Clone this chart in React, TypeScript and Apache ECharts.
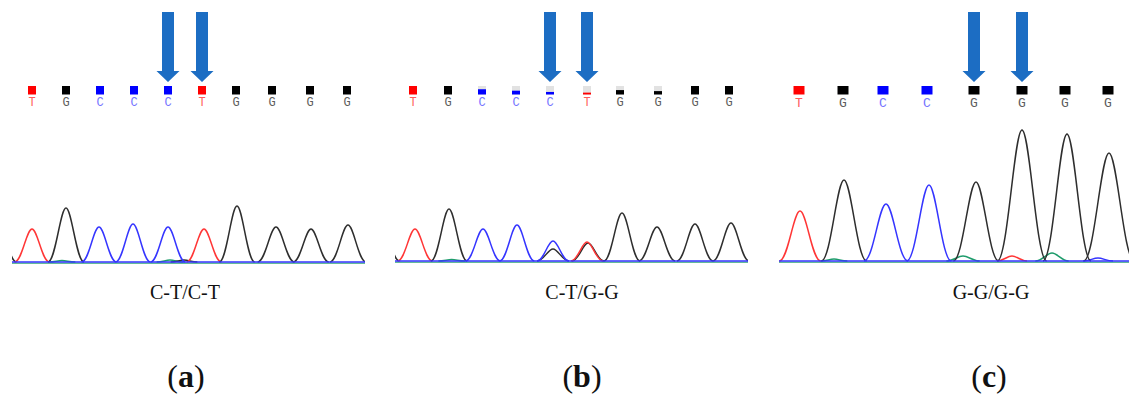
import React, { useEffect, useRef } from 'react';
import * as echarts from 'echarts';

// ---------- colours ----------
const TRACE_COLORS: Record<string, string> = { A: '#1f9c6c', C: '#3535ff', G: '#2e2e2e', T: '#ff3636' };
const CALL_COLORS: Record<string, string> = { A: '#00a000', C: '#0000ff', G: '#000000', T: '#ff0000' };
const LETTER_COLORS: Record<string, string> = { A: '#40a040', C: '#7575ff', G: '#5c5c5c', T: '#ff5c5c' };

// ---------- panel (a) : C-T/C-T ----------
const basesA = ['T', 'G', 'C', 'C', 'C', 'T', 'G', 'G', 'G', 'G'];
const callPosA = [60, 162, 264, 366, 468, 570, 672, 780, 894, 1005];
const qualA = [1, 1, 1, 1, 1, 1, 1, 1, 1, 1];
// [base, scan position, height, half width]
const peaksA: [string, number, number, number][] = [
  ['A', 150, 1.5, 40],
  ['A', 474, 2, 40],
  ['G', 516, 2, 40],
  ['G', -42, 40, 55],
  ['T', 60, 33, 52],
  ['G', 162, 54, 54],
  ['C', 261, 35, 52],
  ['C', 363, 38, 52],
  ['C', 468, 35, 52],
  ['T', 576, 33, 52],
  ['G', 675, 56, 53],
  ['G', 792, 35, 55],
  ['G', 897, 33, 53],
  ['G', 1008, 37, 54],
];

// ---------- panel (b) : C-T/G-G ----------
const basesB = ['T', 'G', 'C', 'C', 'C', 'T', 'G', 'G', 'G', 'G'];
const callPosB = [54, 159, 261, 363, 465, 576, 675, 789, 900, 1002];
const qualB = [1, 1, 0.62, 0.45, 0.3, 0.22, 0.52, 0.4, 1, 1];
const peaksB: [string, number, number, number][] = [
  ['A', 170, 1.5, 40],
  ['G', -42, 40, 55],
  ['T', 60, 32, 52],
  ['G', 162, 52, 54],
  ['C', 264, 32, 52],
  ['C', 366, 36, 52],
  ['G', 474, 12, 48],
  ['C', 474, 20, 48],
  ['G', 579, 18, 48],
  ['T', 576, 19, 48],
  ['G', 681, 48, 54],
  ['G', 786, 34, 54],
  ['G', 900, 37, 54],
  ['G', 1008, 38, 54],
];

// ---------- panel (c) : G-G/G-G ----------
const basesC = ['T', 'G', 'C', 'C', 'G', 'G', 'G', 'G'];
const callPosC = [60, 192, 312, 444, 585, 729, 858, 987];
const qualC = [1, 1, 1, 1, 1, 1, 1, 1];
const peaksC: [string, number, number, number][] = [
  ['A', 165, 2, 40],
  ['A', 552, 5, 50],
  ['T', 699, 5, 45],
  ['A', 819, 8, 50],
  ['C', 957, 3, 45],
  ['T', 63, 50, 62],
  ['G', 195, 81, 68],
  ['C', 321, 57, 66],
  ['C', 450, 76, 67],
  ['G', 591, 79, 68],
  ['G', 729, 131, 74],
  ['G', 864, 127, 72],
  ['G', 990, 108, 76],
];

// arrows point at these base calls (same in every panel)
const arrowBaseIdx = [4, 5];

const genotypes = ['C-T/C-T', 'C-T/G-G', 'G-G/G-G'];
const panelLetters = ['a', 'b', 'c'];

type Panel = {
  bases: string[];
  callPos: number[];
  qual: number[];
  peaks: [string, number, number, number][];
  left: number;
  width: number;
  baseline: number;
  sqW: number;
  letterSize: number;
  captionX: number;
  letterX: number;
};

const panels: Panel[] = [
  { bases: basesA, callPos: callPosA, qual: qualA, peaks: peaksA, left: 12, width: 353, baseline: 262, sqW: 8, letterSize: 12, captionX: 185, letterX: 186 },
  { bases: basesB, callPos: callPosB, qual: qualB, peaks: peaksB, left: 395, width: 353, baseline: 261, sqW: 8, letterSize: 12, captionX: 582, letterX: 582 },
  { bases: basesC, callPos: callPosC, qual: qualC, peaks: peaksC, left: 779, width: 350, baseline: 261, sqW: 11, letterSize: 13, captionX: 991, letterX: 989 },
];

const SCAN_PER_PX = 3;
const TOP_H = 120;
const Y_MIN = -3;
const Y_MAX = 157;

function buildOption() {
  const grid: any[] = [];
  const xAxis: any[] = [];
  const yAxis: any[] = [];
  const series: any[] = [];
  const graphic: any[] = [];

  panels.forEach((p, pi) => {
    const xMax = p.width * SCAN_PER_PX;
    const bottomPx = p.baseline - Y_MIN;
    grid.push({ left: p.left, top: 0, width: p.width, height: TOP_H });
    grid.push({ left: p.left, top: bottomPx - (Y_MAX - Y_MIN), width: p.width, height: Y_MAX - Y_MIN });
    const gTop = pi * 2;
    const gBot = pi * 2 + 1;
    xAxis.push({ type: 'value', gridIndex: gTop, min: 0, max: xMax, show: false });
    xAxis.push({ type: 'value', gridIndex: gBot, min: 0, max: xMax, show: false });
    yAxis.push({ type: 'value', gridIndex: gTop, min: 0, max: TOP_H, inverse: true, show: false });
    yAxis.push({ type: 'value', gridIndex: gBot, min: Y_MIN, max: Y_MAX, show: false });

    // base calls
    series.push({
      type: 'custom',
      xAxisIndex: gTop,
      yAxisIndex: gTop,
      silent: true,
      data: p.callPos.map((x, i) => [x, p.qual[i]]),
      renderItem: (params: any, api: any) => {
        const i = params.dataIndex;
        const b = p.bases[i];
        const x = api.coord([api.value(0), 0])[0];
        const q = api.value(1);
        const sqH = 8.5;
        const top = 86;
        const children: any[] = [];
        if (q < 1) {
          children.push({
            type: 'rect',
            shape: { x: x - p.sqW / 2, y: top, width: p.sqW, height: sqH },
            style: { fill: '#e2e2e2' },
          });
        }
        children.push({
          type: 'rect',
          shape: { x: x - p.sqW / 2, y: top + sqH * (1 - q), width: p.sqW, height: sqH * q },
          style: { fill: CALL_COLORS[b] },
        });
        children.push({
          type: 'text',
          x: x,
          y: 103,
          style: {
            text: b,
            fill: LETTER_COLORS[b],
            fontSize: p.letterSize,
            fontFamily: '"Liberation Mono", monospace',
            align: 'center',
            verticalAlign: 'middle',
          },
        });
        return { type: 'group', children };
      },
    });

    // arrows
    series.push({
      type: 'custom',
      xAxisIndex: gTop,
      yAxisIndex: gTop,
      silent: true,
      data: arrowBaseIdx.map((i) => [p.callPos[i], 0]),
      renderItem: (params: any, api: any) => {
        const x = api.coord([api.value(0), 0])[0];
        const sw = 6;
        const hw = 11.5;
        const yTop = 12;
        const yHead = 71;
        const yTip = 82;
        return {
          type: 'polygon',
          shape: {
            points: [
              [x - sw, yTop],
              [x + sw, yTop],
              [x + sw, yHead],
              [x + hw, yHead],
              [x, yTip],
              [x - hw, yHead],
              [x - sw, yHead],
            ],
          },
          style: { fill: '#1c6dc3' },
        };
      },
    });

    // baselines
    [
      { c: TRACE_COLORS.A, y: -1.2, w: 1 },
      { c: TRACE_COLORS.C, y: 0, w: 1.6 },
    ].forEach((bl) => {
      series.push({
        type: 'line',
        xAxisIndex: gBot,
        yAxisIndex: gBot,
        silent: true,
        symbol: 'none',
        data: [
          [0, bl.y],
          [xMax, bl.y],
        ],
        lineStyle: { color: bl.c, width: bl.w },
      });
    });

    // peaks
    series.push({
      type: 'custom',
      xAxisIndex: gBot,
      yAxisIndex: gBot,
      silent: true,
      clip: true,
      data: p.peaks.map((pk) => [pk[1], pk[2], pk[3]]),
      renderItem: (params: any, api: any) => {
        const b = p.peaks[params.dataIndex][0];
        const c = api.value(0);
        const h = api.value(1);
        const w = api.value(2);
        const p0 = api.coord([c - w, 0]);
        const pc = api.coord([c, h]);
        const p1 = api.coord([c + w, 0]);
        const lw = pc[0] - p0[0];
        const d =
          `M${p0[0]},${p0[1]} ` +
          `C${p0[0] + 0.42 * lw},${p0[1]} ${pc[0] - 0.32 * lw},${pc[1]} ${pc[0]},${pc[1]} ` +
          `C${pc[0] + 0.32 * lw},${pc[1]} ${p1[0] - 0.42 * lw},${p1[1]} ${p1[0]},${p1[1]}`;
        return {
          type: 'path',
          shape: { pathData: d },
          style: { stroke: TRACE_COLORS[b], fill: 'none', lineWidth: 1.5 },
        };
      },
    });

    // captions
    graphic.push({
      type: 'text',
      x: p.captionX,
      y: 292,
      style: {
        text: genotypes[pi],
        fill: '#111',
        fontSize: 20,
        fontFamily: '"Liberation Serif", serif',
        align: 'center',
        verticalAlign: 'middle',
      },
    });
    graphic.push({
      type: 'text',
      x: p.letterX,
      y: 376,
      style: {
        text: `{p|(}{b|${panelLetters[pi]}}{p|)}`,
        align: 'center',
        verticalAlign: 'middle',
        rich: {
          p: { fontSize: 32, fontFamily: '"Liberation Serif", serif', fill: '#111' },
          b: { fontSize: 32, fontWeight: 'bold', fontFamily: '"Liberation Serif", serif', fill: '#111' },
        },
      },
    });
  });

  return {
    animation: false,
    backgroundColor: '#ffffff',
    grid,
    xAxis,
    yAxis,
    series,
    graphic,
  };
}

export default function App() {
  const ref = useRef<HTMLDivElement>(null);
  useEffect(() => {
    if (!ref.current) return;
    const chart = echarts.init(ref.current, null, { renderer: 'svg' });
    chart.setOption(buildOption() as any);
    return () => chart.dispose();
  }, []);
  return (
    <div
      ref={ref}
      style={{ position: 'absolute', left: 0, top: 0, width: 1129, height: 394, background: '#fff' }}
    />
  );
}
